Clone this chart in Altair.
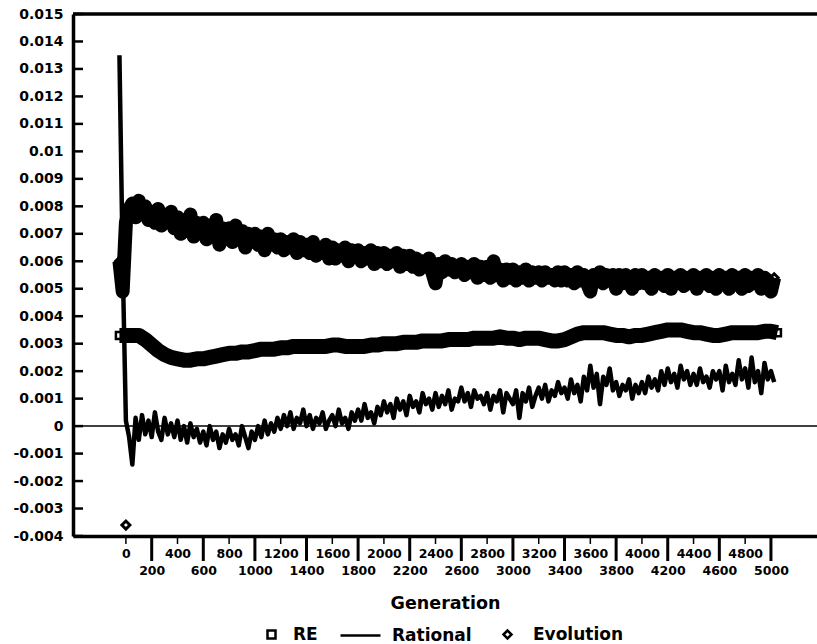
import altair as alt
import pandas as pd

# ---------------- data (values in units of 1e-4) ----------------
gens_fine = list(range(-50, 5026, 25))      # generation positions for Rational / Evolution
gens_re = list(range(-50, 5051, 50))        # generation positions for RE

rational_e4 = [
    135, 60,
    2, -4, -14, 3, -5, 4, -3, 2,
    -4, 5, -2, -5, 3, -3, 1, -4,
    2, -5, 0, -6, 1, -4, -1, -6,
    -2, -7, 0, -5, -2, -8, -3, -6,
    -1, -5, -3, -7, 0, -4, -8, -2,
    -5, 0, -4, 2, -3, 1, -2, 3,
    -1, 4, 0, 5, -1, 3, 1, 6,
    0, 4, -1, 3, 1, 5, -1, 2,
    4, 0, 6, 1, 3, -1, 5, 2,
    6, 2, 8, 3, 5, 1, 7, 4,
    9, 5, 8, 3, 10, 6, 9, 4,
    11, 7, 9, 5, 12, 8, 10, 6,
    12, 7, 11, 8, 13, 6, 10, 9,
    14, 9, 12, 7, 13, 10, 11, 8,
    12, 6, 11, 9, 13, 5, 12, 10,
    8, 13, 3, 12, 9, 14, 7, 11,
    14, 10, 15, 9, 13, 11, 16, 12,
    14, 10, 17, 12, 15, 9, 18, 13,
    22, 14, 19, 8, 18, 15, 21, 13,
    16, 11, 15, 13, 17, 10, 15, 12,
    16, 12, 18, 14, 17, 13, 20, 15,
    21, 16, 19, 14, 22, 17, 20, 15,
    19, 15, 21, 16, 18, 14, 20, 17,
    20, 13, 22, 16, 19, 15, 24, 17,
    21, 14, 25, 16, 20, 12, 23, 17,
    20, 16,
]

evolution_e4 = [
    60, 49,
    74, 79, 81, 76, 82, 77, 80, 75,
    78, 74, 79, 73, 77, 75, 78, 72,
    76, 70, 75, 71, 77, 69, 74, 72,
    74, 68, 73, 70, 75, 66, 72, 69,
    72, 67, 73, 68, 71, 65, 70, 68,
    70, 66, 69, 64, 70, 66, 68, 65,
    68, 64, 67, 65, 68, 63, 67, 64,
    66, 63, 67, 62, 65, 63, 66, 61,
    65, 61, 64, 62, 65, 60, 64, 62,
    64, 60, 63, 61, 64, 59, 63, 60,
    63, 59, 62, 60, 63, 58, 62, 59,
    62, 58, 61, 57, 60, 58, 61, 56,
    52, 59, 56, 60, 57, 59, 56, 58,
    59, 55, 58, 56, 59, 54, 58, 55,
    58, 54, 60, 55, 57, 53, 57, 54,
    57, 53, 56, 54, 57, 53, 56, 54,
    56, 53, 56, 54, 55, 53, 56, 53,
    56, 53, 55, 52, 56, 53, 55, 52,
    49, 55, 53, 56, 52, 55, 53, 55,
    50, 55, 52, 55, 53, 50, 55, 52,
    55, 52, 54, 50, 55, 52, 54, 51,
    55, 50, 54, 52, 55, 51, 54, 52,
    55, 50, 54, 52, 55, 51, 54, 50,
    55, 52, 54, 50, 55, 52, 54, 50,
    55, 51, 54, 52, 55, 50, 54, 53,
    49, 54,
]

evolution_outlier_gen = [0]
evolution_outlier_e4 = [-36]

re_e4 = [
    33,
    33, 33, 33, 31.5, 29.5, 27.5, 26, 25, 24.5, 24, 24, 24.5, 24.5, 25, 25.5, 26, 26.5, 26.5, 27, 27,
    27.5, 28, 28, 28, 28.5, 28.5, 29, 29, 29, 29, 29, 29, 29.5, 29.5, 29, 29, 29, 29, 29.5, 29.5,
    30, 30, 30, 30.5, 30.5, 30.5, 31, 31, 31, 31, 31.5, 31.5, 31.5, 31.5, 32, 32, 32, 32, 32.5, 32,
    32, 31.5, 32, 32, 32, 31.5, 31, 31, 31.5, 32.5, 33.5, 34, 34, 34, 34, 33.5, 33, 33, 32.5, 33,
    33, 33.5, 34, 34.5, 35, 35, 35, 34.5, 34, 34, 33.5, 33, 33, 33.5, 34, 34, 34, 34, 34, 34.5,
    34.5, 34,
]

y_tick_values = [-0.004, -0.003, -0.002, -0.001, 0, 0.001, 0.002, 0.003, 0.004, 0.005,
                 0.006, 0.007, 0.008, 0.009, 0.01, 0.011, 0.012, 0.013, 0.014, 0.015]
x_label_values = [0, 200, 400, 600, 800, 1000, 1200, 1400, 1600, 1800, 2000, 2200, 2400,
                  2600, 2800, 3000, 3200, 3400, 3600, 3800, 4000, 4200, 4400, 4600, 4800, 5000]
x_minor_ticks = [0, 400, 800, 1200, 1600, 2000, 2400, 2800, 3200, 3600, 4000, 4400, 4800]
x_major_ticks = [200, 600, 1000, 1400, 1800, 2200, 2600, 3000, 3400, 3800, 4200, 4600, 5000]

# ---------------- tables ----------------
rat_df = pd.DataFrame({"g": gens_fine, "v": [v / 1e4 for v in rational_e4], "lab": "Rational"})
evo_df = pd.DataFrame({"g": gens_fine, "v": [v / 1e4 for v in evolution_e4], "lab": "Evolution"})
evo_pts_df = pd.concat([
    evo_df,
    pd.DataFrame({"g": evolution_outlier_gen, "v": [v / 1e4 for v in evolution_outlier_e4],
                  "lab": "Evolution"}),
], ignore_index=True)
re_df = pd.DataFrame({"g": gens_re, "v": [v / 1e4 for v in re_e4], "lab": "RE"})

W, H = 744, 522
FONT = "DejaVu Sans"

x_scale = alt.Scale(domain=[-410, 5357], nice=False, zero=False)
y_scale = alt.Scale(domain=[-0.004, 0.015], nice=False, zero=False)

x_axis = alt.Axis(
    values=x_label_values, format="d", ticks=False, tickSize=0, grid=False,
    domain=True, domainWidth=3.5, domainColor="black",
    labelExpr="datum.value % 400 == 0 ? datum.label : ['', datum.label]",
    labelFont=FONT, labelFontSize=12.5, labelFontWeight="bold", labelColor="black",
    labelPadding=11, labelLineHeight=17, labelBaseline="top",
    labelOverlap=False, labelFlush=False, labelBound=False,
    title="Generation", titleFont=FONT, titleFontSize=17.5, titleFontWeight="bold",
    titleColor="black", titleY=72, titleBaseline="alphabetic",
)
y_axis = alt.Axis(
    values=y_tick_values, ticks=False, tickSize=0, grid=False,
    domain=True, domainWidth=3.5, domainColor="black",
    labelExpr="'' + datum.value",
    labelFont=FONT, labelFontSize=14, labelFontWeight="bold", labelColor="black",
    labelPadding=10, labelOverlap=False, labelFlush=False, title=None,
)

X = lambda: alt.X("g:Q", scale=x_scale, axis=x_axis)
Y = lambda: alt.Y("v:Q", scale=y_scale, axis=y_axis)

legend_common = dict(
    orient="none", direction="horizontal", title=None, padding=0,
    labelFont=FONT, labelFontSize=17, labelFontWeight="bold", labelColor="black",
    symbolStrokeColor="black", symbolStrokeWidth=2.5, symbolOpacity=1,
)

# ---------------- frame pieces ----------------
zero_line = alt.Chart(pd.DataFrame({"v": [0]})).mark_rule(color="black", strokeWidth=1.5).encode(y=Y())
top_line = alt.Chart(pd.DataFrame({"v": [0.015]})).mark_rule(color="black", strokeWidth=3.5).encode(y=Y())
y_ticks = alt.Chart(pd.DataFrame({"v": y_tick_values})).mark_rule(color="black", strokeWidth=2.5).encode(
    y=Y(), x=alt.value(0), x2=alt.value(10))
x_minor = alt.Chart(pd.DataFrame({"g": x_minor_ticks})).mark_rule(color="black", strokeWidth=1.5).encode(
    x=X(), y=alt.value(H), y2=alt.value(H + 8))
x_major = alt.Chart(pd.DataFrame({"g": x_major_ticks})).mark_rule(color="black", strokeWidth=3).encode(
    x=X(), y=alt.value(H), y2=alt.value(H + 25))

# ---------------- series ----------------
re_band = alt.Chart(re_df).mark_line(color="black", strokeWidth=15, strokeJoin="round").encode(x=X(), y=Y())
re_pts = alt.Chart(re_df).mark_point(shape="square", filled=False, color="black", size=50,
                                     strokeWidth=2.5, opacity=1).encode(
    x=X(), y=Y(),
    shape=alt.Shape("lab:N", scale=alt.Scale(domain=["RE"], range=["square"]),
                    legend=alt.Legend(legendX=190, legendY=612, labelOffset=13, symbolSize=64,
                                      symbolFillColor="white", **legend_common)),
)

evo_band = alt.Chart(evo_df).mark_line(color="black", strokeWidth=14, strokeJoin="round").encode(x=X(), y=Y())
evo_pts = alt.Chart(evo_pts_df).mark_point(filled=False, color="black", size=64,
                                           strokeWidth=3, opacity=1).encode(
    x=X(), y=Y(),
    shape=alt.Shape("lab:N", scale=alt.Scale(domain=["Evolution"], range=["diamond"]),
                    legend=alt.Legend(legendX=426, legendY=612, labelOffset=17, symbolSize=64,
                                      symbolFillColor="white", **legend_common)),
)

rat_line = alt.Chart(rat_df).mark_line(color="black", strokeWidth=4.5, strokeJoin="round").encode(
    x=X(), y=Y(),
    strokeDash=alt.StrokeDash("lab:N", scale=alt.Scale(domain=["Rational"], range=[[1, 0]]),
                              legend=alt.Legend(legendX=266, legendY=600, labelOffset=10,
                                                symbolSize=1600, symbolType="stroke",
                                                **legend_common)),
)

chart = alt.layer(
    zero_line, top_line, y_ticks, x_minor, x_major,
    evo_band, evo_pts, re_band, re_pts, rat_line,
).resolve_scale(shape="independent").properties(
    width=W, height=H,
    padding={"left": 73, "top": 14, "right": 0, "bottom": 108},
    autosize=alt.AutoSizeParams(type="none"),
    background="white",
).configure_view(stroke=None)

chart.save("out.html", embed_options={"renderer": "svg", "actions": False})
